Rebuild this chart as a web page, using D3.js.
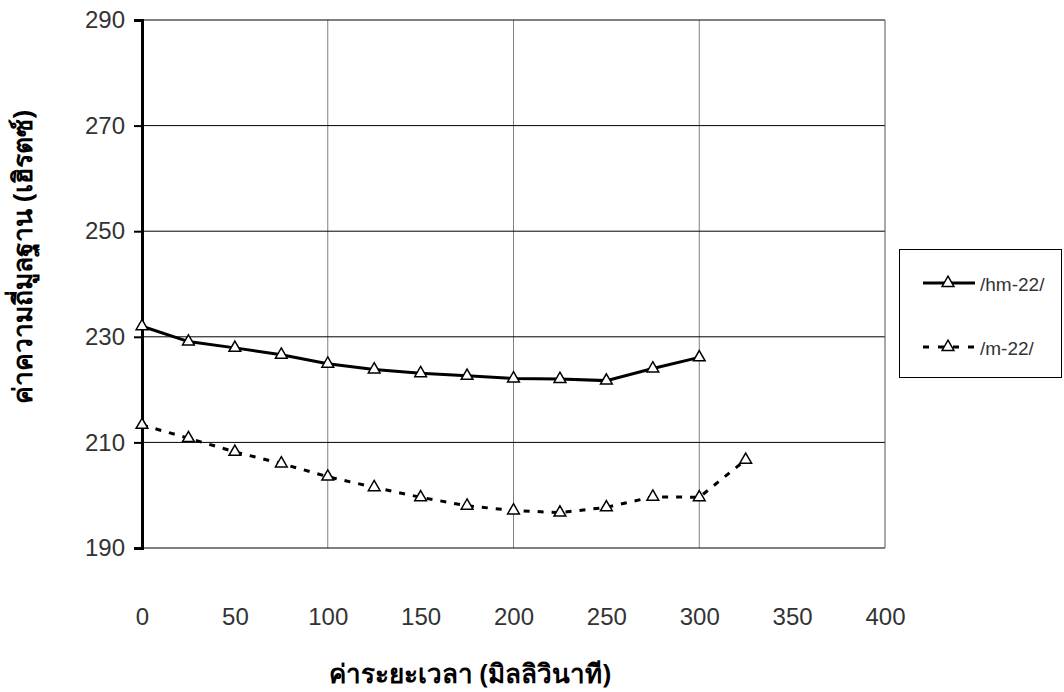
<!DOCTYPE html>
<html><head><meta charset="utf-8">
<script src="https://cdn.jsdelivr.net/npm/d3@7"></script>
<style>body{margin:0;background:#fff}svg{display:block}</style>
</head><body>
<script>
const times = [0,25,50,75,100,125,150,175,200,225,250,275,300,325];
const hm22 = [232.0,229.1,227.9,226.6,224.9,223.8,223.1,222.6,222.1,222.0,221.7,224.0,226.1,null];
const m22  = [213.3,210.8,208.2,206.0,203.5,201.5,199.6,198.0,197.1,196.7,197.7,199.7,199.6,206.7];
const xTicks = [0,50,100,150,200,250,300,350,400];
const yTicks = [190,210,230,250,270,290];
const xGrid = [100,200,300];
const seriesNames = ["/hm-22/","/m-22/"];
const xTitle = "ค่าระยะเวลา (มิลลิวินาที)";
const yTitle = "ค่าความถี่มูลฐาน (เฮิรตซ์)";

const W=1064,H=692;
const svg=d3.select("body").append("svg").attr("width",W).attr("height",H);
const x=d3.scaleLinear().domain([0,400]).range([142,885]);
const y=d3.scaleLinear().domain([190,290]).range([548,20]);
const numFont="'Liberation Sans', Arial, sans-serif";
const font="Tahoma, 'Noto Sans', 'Liberation Sans', sans-serif";

// grid
svg.append("g").selectAll("line").data(xGrid).join("line")
  .attr("x1",d=>x(d)).attr("x2",d=>x(d)).attr("y1",y(290)).attr("y2",y(190))
  .attr("stroke","#808080").attr("stroke-width",1);
svg.append("g").selectAll("line").data(yTicks.filter(d=>d>190)).join("line")
  .attr("x1",x(0)).attr("x2",x(400)).attr("y1",d=>y(d)).attr("y2",d=>y(d))
  .attr("stroke","#000").attr("stroke-width",1);
// bottom and right border
svg.append("line").attr("x1",x(0)).attr("x2",x(400)).attr("y1",y(190)).attr("y2",y(190)).attr("stroke","#000");
svg.append("line").attr("x1",x(400)).attr("x2",x(400)).attr("y1",y(290)).attr("y2",y(190)).attr("stroke","#555");

// y axis
const ya=svg.append("g").attr("transform",`translate(${x(0)},0)`)
  .call(d3.axisLeft(y).tickValues(yTicks).tickSize(8).tickPadding(9));
ya.select(".domain").attr("stroke","#000").attr("stroke-width",3);
ya.selectAll(".tick line").attr("stroke","#000").attr("stroke-width",2);
ya.selectAll("text").attr("font-family",numFont).attr("font-size",24).attr("fill","#333");

// x tick labels
const xa=svg.append("g").attr("transform",`translate(0,${y(190)})`)
  .call(d3.axisBottom(x).tickValues(xTicks).tickSize(0).tickPadding(60));
xa.select(".domain").remove();
xa.selectAll("text").attr("font-family",numFont).attr("font-size",24).attr("fill","#333");

// titles
svg.append("text").attr("x",470).attr("y",683).attr("text-anchor","middle")
  .attr("font-family",font).attr("font-size",26).attr("font-weight","bold").text(xTitle);
svg.append("text").attr("transform","translate(32,257) rotate(-90)").attr("text-anchor","middle")
  .attr("font-family",font).attr("font-size",26.5).attr("font-weight","bold").text(yTitle);

const tri=d3.symbol().type(d3.symbolTriangle).size(60);
function drawSeries(vals,dash){
  const pts=times.map((t,i)=>({t,v:vals[i]})).filter(d=>d.v!=null);
  const line=d3.line().x(d=>x(d.t)).y(d=>y(d.v));
  svg.append("path").datum(pts).attr("d",line).attr("fill","none").attr("stroke","#000")
    .attr("stroke-width",3).attr("stroke-dasharray",dash);
  svg.append("g").selectAll("path").data(pts).join("path")
    .attr("d",tri).attr("transform",d=>`translate(${x(d.t)},${y(d.v)})`)
    .attr("fill","#fff").attr("stroke","#000").attr("stroke-width",1.5);
}
drawSeries(hm22,null);
drawSeries(m22,"6,8");

// legend
svg.append("rect").attr("x",899.5).attr("y",249.5).attr("width",162).attr("height",128)
  .attr("fill","#fff").attr("stroke","#000").attr("stroke-width",1);
const lg=[{y:283,dash:null},{y:347,dash:"6,9"}];
lg.forEach((l,i)=>{
  svg.append("line").attr("x1",923).attr("x2",975).attr("y1",l.y).attr("y2",l.y)
    .attr("stroke","#000").attr("stroke-width",3).attr("stroke-dasharray",l.dash);
  svg.append("path").attr("d",tri).attr("transform",`translate(948,${l.y})`)
    .attr("fill","#fff").attr("stroke","#000").attr("stroke-width",1.5);
  svg.append("text").attr("x",980).attr("y",l.y+8).attr("font-family",numFont).attr("font-size",19)
    .attr("fill","#333").text(seriesNames[i]);
});
</script>
</body></html>
